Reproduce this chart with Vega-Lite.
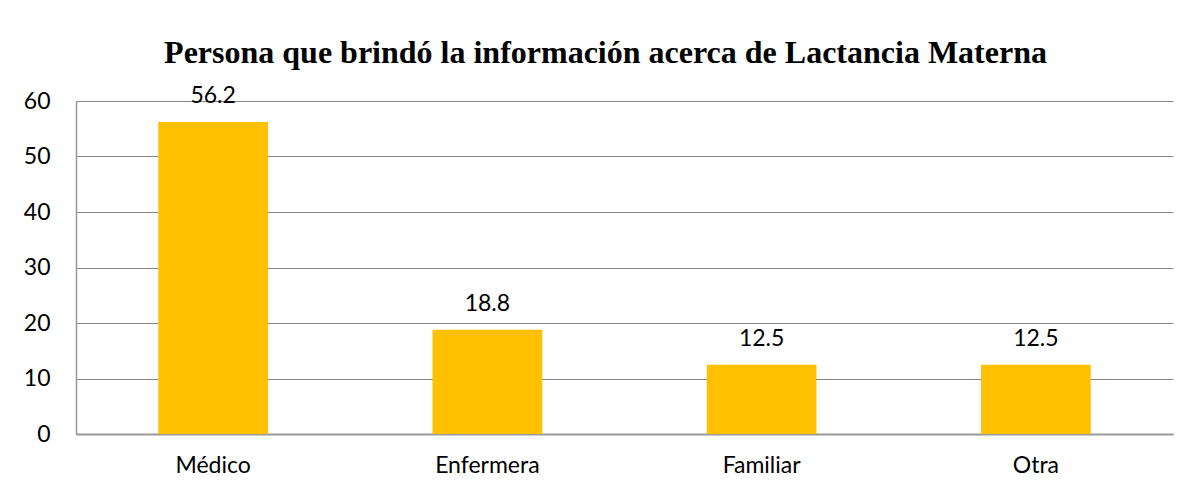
{
  "$schema": "https://vega.github.io/schema/vega-lite/v6.json",
  "width": 1097,
  "height": 333,
  "autosize": {"type": "none"},
  "padding": {"left": 76, "top": 101, "right": 17, "bottom": 62},
  "background": "white",
  "title": {
    "text": "Persona que brindó la información acerca de Lactancia Materna",
    "font": "Liberation Serif",
    "fontSize": 32,
    "fontWeight": "bold",
    "color": "black",
    "anchor": "middle",
    "frame": "group",
    "dx": -19,
    "offset": 15
  },
  "data": {
    "values": [
      {"persona": "Médico", "valor": 56.2},
      {"persona": "Enfermera", "valor": 18.8},
      {"persona": "Familiar", "valor": 12.5},
      {"persona": "Otra", "valor": 12.5}
    ]
  },
  "encoding": {
    "x": {
      "field": "persona",
      "type": "nominal",
      "sort": null,
      "scale": {"paddingInner": 0.6, "paddingOuter": 0.3},
      "axis": {
        "title": null,
        "labelAngle": 0,
        "ticks": false,
        "labelPadding": 20,
        "labelFont": "Lato",
        "labelFontSize": 23,
        "labelColor": "black",
        "domainColor": "#999999",
        "domainWidth": 2
      }
    },
    "y": {
      "field": "valor",
      "type": "quantitative",
      "scale": {"domain": [0, 60], "nice": false},
      "axis": {
        "title": null,
        "values": [0, 10, 20, 30, 40, 50, 60],
        "ticks": false,
        "labelPadding": 26,
        "labelFont": "Lato",
        "labelFontSize": 23,
        "labelColor": "black",
        "gridColor": "#878787",
        "gridWidth": 1,
        "domainColor": "#999999",
        "domainWidth": 1.5
      }
    }
  },
  "layer": [
    {"mark": {"type": "bar", "color": "#FFC000"}},
    {
      "mark": {"type": "text", "font": "Lato", "fontSize": 23, "color": "black", "baseline": "alphabetic", "dy": -19},
      "encoding": {"text": {"field": "valor", "type": "quantitative", "format": ".1f"}}
    }
  ],
  "config": {"view": {"stroke": null}}
}
